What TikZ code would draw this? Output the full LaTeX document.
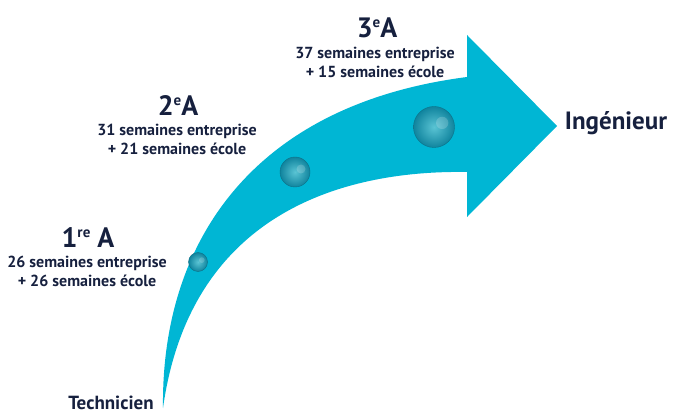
\documentclass[tikz,border=0pt]{standalone}
\usepackage{fontspec}
\setmainfont{PT Sans}

\begin{document}
\begin{tikzpicture}[x=1pt,y=-1pt]

    % couleurs
    \definecolor{fleche}{RGB}{0,182,212}
    \definecolor{encre}{RGB}{22,32,62}
    \definecolor{bulleclair}{RGB}{90,196,212}
    \definecolor{bullefonce}{RGB}{16,132,158}

    % styles des textes
    \tikzset{
        annee/.style={text=encre, inner sep=0pt, font=\bfseries\fontsize{28}{30}\selectfont},
        duree/.style={text=encre, inner sep=0pt, align=center, font=\bfseries\fontsize{16}{19}\selectfont},
        etape/.style={text=encre, inner sep=0pt, anchor=base}
    }

    % petit exposant
    \newcommand{\expo}[1]{\raisebox{0.38em}{\fontsize{15}{15}\selectfont #1}}

    % bulle : centre (x,y) et rayon
    \newcommand{\bulle}[3]{%
        \shade[inner color=bulleclair, outer color=bullefonce] (#1,#2) circle (#3);
        \draw[bullefonce!85!black, thin] (#1,#2) circle (#3);
        \fill[white, opacity=0.18] (#1+0.4*#3,#2-0.2*#3) circle (0.3*#3);
    }

    % cadre
    \useasboundingbox (0,0) rectangle (676,419);

    % flèche courbe
    \fill[fleche] (163,408) .. controls (161,245) and (250,105) .. (467,77)
        -- (467,35) -- (557,126) -- (467,217) -- (467,172)
        .. controls (340,170) and (190,215) .. (163,408) -- cycle;

    % bulles
    \bulle{198}{262}{9.5}
    \bulle{295}{172}{15}
    \bulle{434}{127}{20.5}

    % années
    \node[annee] (a1) at (88,238) {1\expo{re} A};
    \node[duree] (d1) at (87,271) {26 semaines entreprise\\+ 26 semaines école};

    \node[annee] (a2) at (178,106) {2\expo{e}A};
    \node[duree] (d2) at (177,139) {31 semaines entreprise\\+ 21 semaines école};

    \node[annee] (a3) at (377,28) {3\expo{e}A};
    \node[duree] (d3) at (375,62) {37 semaines entreprise\\+ 15 semaines école};

    % début et fin
    \node[etape, font=\bfseries\fontsize{19}{22}\selectfont] (tech) at (111,409) {Technicien};
    \node[etape, font=\bfseries\fontsize{25}{28}\selectfont] (ing) at (616,130) {Ingénieur};

\end{tikzpicture}
\end{document}
